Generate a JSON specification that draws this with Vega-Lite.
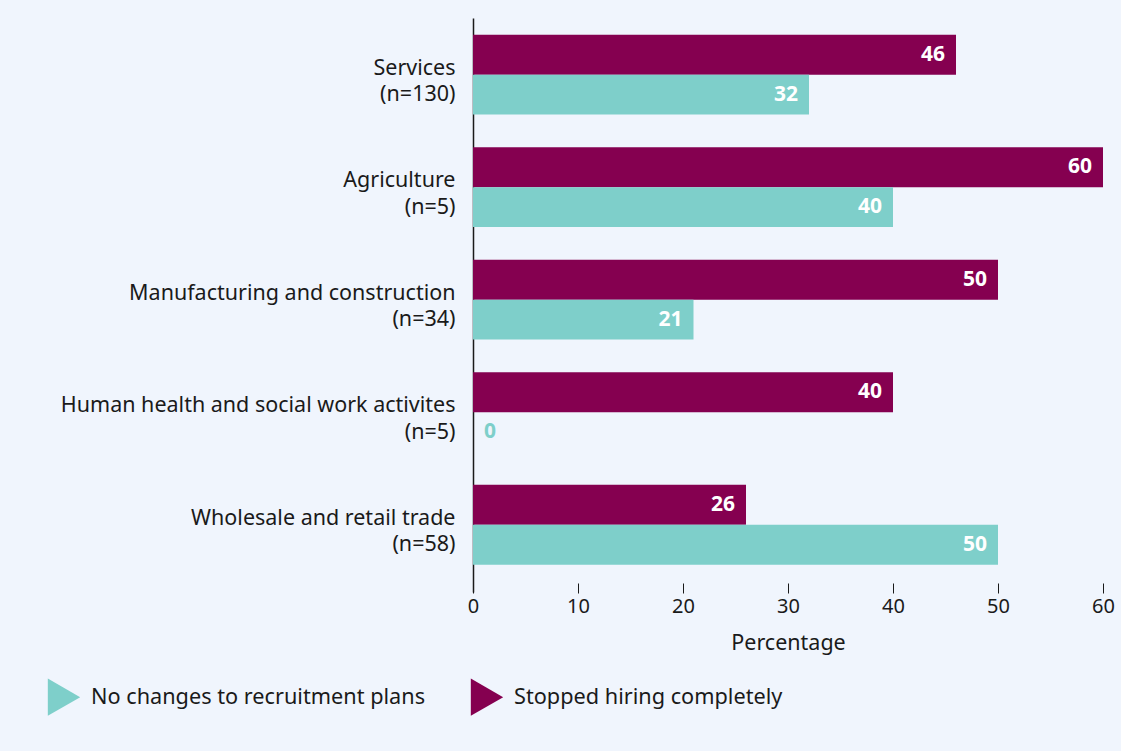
{
  "$schema": "https://vega.github.io/schema/vega-lite/v6.json",
  "width": 630,
  "height": 574,
  "autosize": {"type": "none"},
  "padding": {"left": 473, "top": 18, "right": 18, "bottom": 159},
  "background": "#F0F5FD",
  "config": {
    "view": {"stroke": null},
    "font": "Noto Sans",
    "axis": {"labelFont": "Noto Sans", "titleFont": "Noto Sans", "labelColor": "#1a1a1a", "titleColor": "#1a1a1a"},
    "legend": {"labelFont": "Noto Sans"}
  },
  "data": {
    "values": [
      {"category": "Services|(n=130)", "series": "Stopped hiring completely", "value": 46},
      {"category": "Services|(n=130)", "series": "No changes to recruitment plans", "value": 32},
      {"category": "Agriculture|(n=5)", "series": "Stopped hiring completely", "value": 60},
      {"category": "Agriculture|(n=5)", "series": "No changes to recruitment plans", "value": 40},
      {"category": "Manufacturing and construction|(n=34)", "series": "Stopped hiring completely", "value": 50},
      {"category": "Manufacturing and construction|(n=34)", "series": "No changes to recruitment plans", "value": 21},
      {"category": "Human health and social work activites|(n=5)", "series": "Stopped hiring completely", "value": 40},
      {"category": "Human health and social work activites|(n=5)", "series": "No changes to recruitment plans", "value": 0},
      {"category": "Wholesale and retail trade|(n=58)", "series": "Stopped hiring completely", "value": 26},
      {"category": "Wholesale and retail trade|(n=58)", "series": "No changes to recruitment plans", "value": 50}
    ]
  },
  "encoding": {
    "y": {
      "field": "category",
      "type": "nominal",
      "sort": null,
      "scale": {"paddingInner": 0.289, "paddingOuter": 0.1956, "align": 0.378},
      "axis": {
        "title": null,
        "labelExpr": "split(datum.label, '|')",
        "labelFontSize": 21.5,
        "labelLineHeight": 26.5,
        "labelOffset": -6,
        "labelPadding": 18,
        "ticks": false,
        "domainColor": "#1a1a1a",
        "domainWidth": 1.5,
        "labelLimit": 500
      }
    },
    "yOffset": {
      "field": "series",
      "type": "nominal",
      "scale": {"domain": ["Stopped hiring completely", "No changes to recruitment plans"], "paddingInner": 0, "paddingOuter": 0}
    },
    "x": {
      "field": "value",
      "type": "quantitative",
      "scale": {"domain": [0, 60], "nice": false},
      "axis": {
        "title": "Percentage",
        "values": [0, 10, 20, 30, 40, 50, 60],
        "grid": false,
        "domain": false,
        "offset": -9,
        "tickSize": 10,
        "tickColor": "#1a1a1a",
        "labelFlush": false,
        "labelFontSize": 20,
        "labelPadding": 3,
        "titleFontSize": 21.5,
        "titleFontWeight": "normal",
        "titlePadding": 16
      }
    }
  },
  "layer": [
    {
      "mark": {"type": "bar", "cornerRadius": 0},
      "encoding": {
        "color": {
          "field": "series",
          "type": "nominal",
          "scale": {"domain": ["No changes to recruitment plans", "Stopped hiring completely"], "range": ["#7ECFCA", "#850050"]},
          "legend": {
            "title": null,
            "orient": "none",
            "legendX": -428,
            "legendY": 660,
            "direction": "horizontal",
            "symbolType": "triangle-right",
            "symbolSize": 1400,
            "symbolStrokeWidth": 0,
            "labelFontSize": 21.7,
            "labelColor": "#1a1a1a",
            "labelOffset": 8,
            "columnPadding": 42,
            "labelLimit": 500
          }
        }
      }
    },
    {
      "transform": [{"filter": "datum.value > 0"}],
      "mark": {"type": "text", "align": "right", "baseline": "middle", "dx": -11, "fontSize": 21, "fontWeight": "bold", "color": "white"},
      "encoding": {"text": {"field": "value", "type": "quantitative"}}
    },
    {
      "transform": [{"filter": "datum.value == 0"}],
      "mark": {"type": "text", "align": "left", "baseline": "middle", "dx": 11, "fontSize": 21, "fontWeight": "bold", "color": "#7ECFCA"},
      "encoding": {"text": {"field": "value", "type": "quantitative"}}
    }
  ]
}
